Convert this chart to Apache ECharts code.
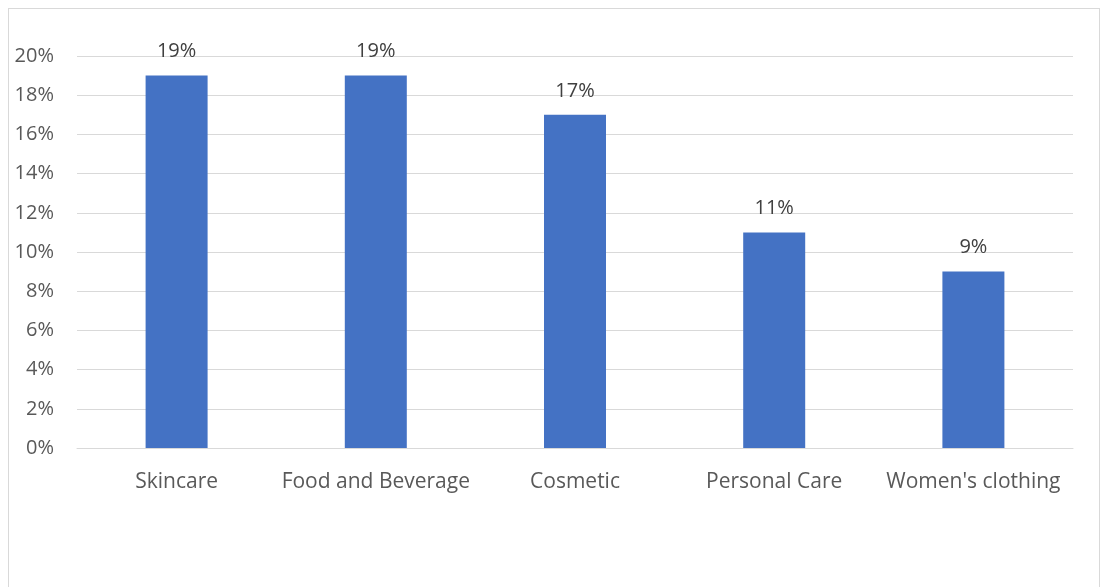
<!DOCTYPE html>
<html>
<head>
<meta charset="utf-8">
<script src="https://cdn.jsdelivr.net/npm/echarts@6/dist/echarts.min.js"></script>
<style>
html,body{margin:0;padding:0;background:#fff;}
#frame{position:absolute;left:8px;top:8px;width:1092px;height:600px;border:1px solid #d9d9d9;box-sizing:border-box;}
#chart{position:absolute;left:0;top:0;width:1108px;height:587px;}
</style>
</head>
<body>
<div id="frame"></div>
<div id="chart"></div>
<script>
const categories = ["Skincare", "Food and Beverage", "Cosmetic", "Personal Care", "Women's clothing"];
const shares = [19, 19, 17, 11, 9];
const yTicks = [0, 2, 4, 6, 8, 10, 12, 14, 16, 18, 20];

const chart = echarts.init(document.getElementById('chart'));
const font = '"Open Sans", "Noto Sans", sans-serif';
chart.setOption({
  animation: false,
  textStyle: { fontFamily: font },
  grid: { left: 77, right: 35, top: 56, bottom: 139, containLabel: false },
  xAxis: {
    type: 'category',
    data: categories,
    axisLine: { show: true, lineStyle: { color: '#d9d9d9', width: 1 } },
    axisTick: { show: false },
    axisLabel: { color: '#595959', fontSize: 21, margin: 24, interval: 0, fontFamily: font }
  },
  yAxis: {
    type: 'value',
    min: yTicks[0],
    max: yTicks[yTicks.length - 1],
    interval: 2,
    axisLine: { show: false },
    axisTick: { show: false },
    splitLine: { lineStyle: { color: '#d9d9d9', width: 1 } },
    axisLabel: { color: '#595959', fontSize: 20, margin: 23, formatter: v => v + '%', fontFamily: font }
  },
  series: [{
    type: 'bar',
    data: shares,
    barWidth: 62,
    itemStyle: { color: '#4472c4' },
    label: {
      show: true, position: 'top', distance: 14,
      color: '#404040', fontSize: 20, fontFamily: font,
      formatter: p => p.value + '%'
    }
  }]
});
</script>
</body>
</html>
